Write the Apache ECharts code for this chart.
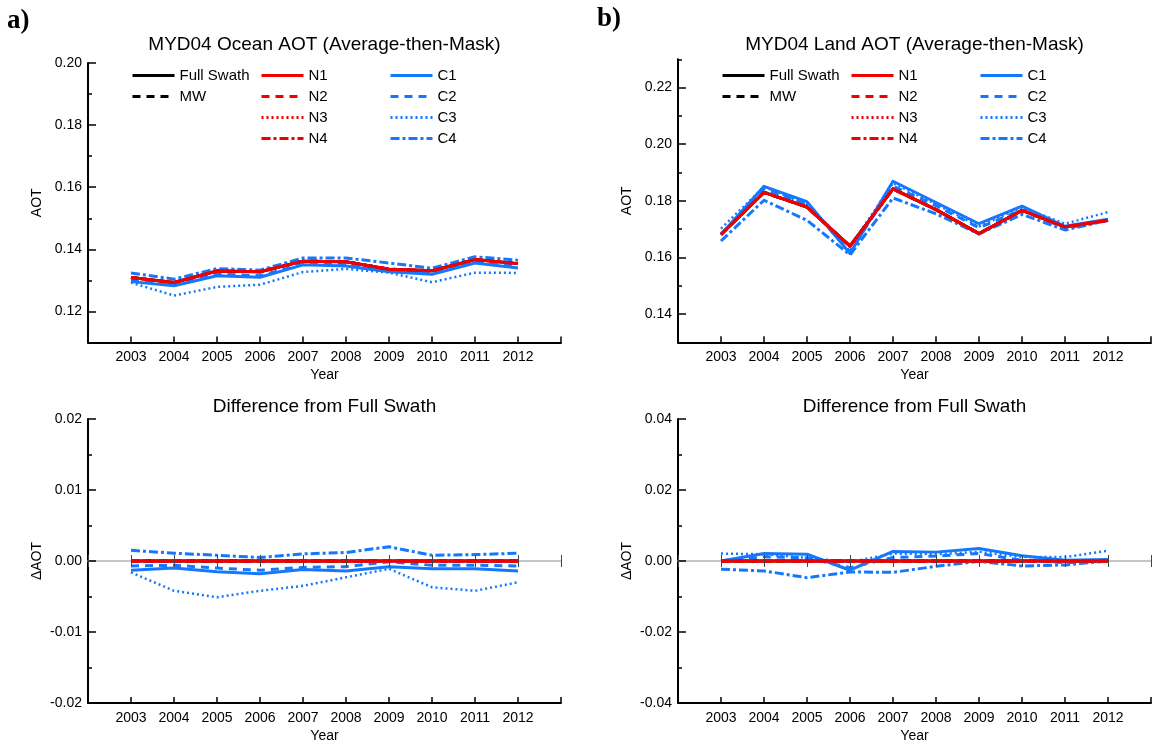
<!DOCTYPE html>
<html><head><meta charset="utf-8">
<script src="https://cdn.jsdelivr.net/npm/echarts@6/dist/echarts.min.js"></script>
<style>html,body{margin:0;padding:0;background:#fff}#c{width:1154px;height:744px}</style>
</head><body><div id="c"></div>
<script>
// ---------- data ----------
const years = [2003, 2004, 2005, 2006, 2007, 2008, 2009, 2010, 2011, 2012];

// Ocean AOT (top-left)
const oceanFullSwath = [0.1309, 0.1293, 0.1330, 0.1328, 0.1362, 0.1360, 0.1336, 0.1331, 0.1367, 0.1354];
const oceanMW        = [0.1309, 0.1293, 0.1330, 0.1328, 0.1362, 0.1360, 0.1336, 0.1331, 0.1367, 0.1354];
const oceanN1        = [0.1309, 0.1293, 0.1330, 0.1328, 0.1362, 0.1360, 0.1336, 0.1331, 0.1367, 0.1354];
const oceanN2        = [0.1309, 0.1293, 0.1330, 0.1328, 0.1362, 0.1360, 0.1336, 0.1331, 0.1367, 0.1354];
const oceanN3        = [0.1309, 0.1293, 0.1330, 0.1328, 0.1362, 0.1360, 0.1336, 0.1331, 0.1367, 0.1354];
const oceanN4        = [0.1309, 0.1293, 0.1330, 0.1328, 0.1362, 0.1360, 0.1336, 0.1331, 0.1367, 0.1354];
const oceanC1        = [0.1296, 0.1283, 0.1315, 0.1310, 0.1350, 0.1346, 0.1328, 0.1320, 0.1356, 0.1340];
const oceanC2        = [0.1302, 0.1287, 0.1320, 0.1315, 0.1353, 0.1352, 0.1335, 0.1325, 0.1361, 0.1347];
const oceanC3        = [0.1293, 0.1251, 0.1279, 0.1286, 0.1327, 0.1337, 0.1325, 0.1294, 0.1325, 0.1324];
const oceanC4        = [0.1324, 0.1304, 0.1338, 0.1333, 0.1372, 0.1372, 0.1356, 0.1339, 0.1376, 0.1365];

// Land AOT (top-right)
const landFullSwath = [0.1681, 0.1830, 0.1778, 0.1640, 0.1842, 0.1769, 0.1684, 0.1766, 0.1708, 0.1731];
const landMW        = [0.1681, 0.1830, 0.1778, 0.1640, 0.1842, 0.1769, 0.1684, 0.1766, 0.1708, 0.1731];
const landN1        = [0.1681, 0.1830, 0.1778, 0.1640, 0.1842, 0.1769, 0.1684, 0.1766, 0.1708, 0.1731];
const landN2        = [0.1681, 0.1830, 0.1778, 0.1640, 0.1842, 0.1769, 0.1684, 0.1766, 0.1708, 0.1731];
const landN3        = [0.1681, 0.1830, 0.1778, 0.1640, 0.1842, 0.1769, 0.1684, 0.1766, 0.1708, 0.1731];
const landN4        = [0.1681, 0.1830, 0.1778, 0.1640, 0.1842, 0.1769, 0.1684, 0.1766, 0.1708, 0.1731];
const landC1        = [0.1681, 0.1851, 0.1797, 0.1614, 0.1869, 0.1794, 0.1719, 0.1781, 0.1710, 0.1735];
const landC2        = [0.1681, 0.1842, 0.1787, 0.1621, 0.1852, 0.1783, 0.1705, 0.1768, 0.1703, 0.1731];
const landC3        = [0.1702, 0.1849, 0.1787, 0.1637, 0.1863, 0.1788, 0.1710, 0.1777, 0.1719, 0.1760];
const landC4        = [0.1658, 0.1802, 0.1731, 0.1609, 0.1810, 0.1754, 0.1683, 0.1752, 0.1697, 0.1731];

// Ocean difference from Full Swath (bottom-left)
const oceanDiffFullSwath = [0, 0, 0, 0, 0, 0, 0, 0, 0, 0];
const oceanDiffMW        = [0, 0, 0, 0, 0, 0, 0, 0, 0, 0];
const oceanDiffN1        = [0, 0, 0, 0, 0, 0, 0, 0, 0, 0];
const oceanDiffN2        = [0, 0, 0, 0, 0, 0, 0, 0, 0, 0];
const oceanDiffN3        = [0, 0, 0, 0, 0, 0, 0, 0, 0, 0];
const oceanDiffN4        = [0, 0, 0, 0, 0, 0, 0, 0, 0, 0];
const oceanDiffC1        = [-0.0013, -0.0010, -0.0015, -0.0018, -0.0012, -0.0014, -0.0008, -0.0011, -0.0011, -0.0014];
const oceanDiffC2        = [-0.0007, -0.0006, -0.0010, -0.0013, -0.0009, -0.0008, -0.0001, -0.0006, -0.0006, -0.0007];
const oceanDiffC3        = [-0.0016, -0.0042, -0.0051, -0.0042, -0.0035, -0.0023, -0.0011, -0.0037, -0.0042, -0.0030];
const oceanDiffC4        = [0.0015, 0.0011, 0.0008, 0.0005, 0.0010, 0.0012, 0.0020, 0.0008, 0.0009, 0.0011];

// Land difference from Full Swath (bottom-right)
const landDiffFullSwath = [0, 0, 0, 0, 0, 0, 0, 0, 0, 0];
const landDiffMW        = [0, 0, 0, 0, 0, 0, 0, 0, 0, 0];
const landDiffN1        = [0, 0, 0, 0, 0, 0, 0, 0, 0, 0];
const landDiffN2        = [0, 0, 0, 0, 0, 0, 0, 0, 0, 0];
const landDiffN3        = [0, 0, 0, 0, 0, 0, 0, 0, 0, 0];
const landDiffN4        = [0, 0, 0, 0, 0, 0, 0, 0, 0, 0];
const landDiffC1        = [0.0000, 0.0021, 0.0019, -0.0026, 0.0027, 0.0025, 0.0035, 0.0015, 0.0002, 0.0004];
const landDiffC2        = [0.0000, 0.0012, 0.0009, -0.0019, 0.0010, 0.0014, 0.0021, 0.0002, -0.0005, 0.0000];
const landDiffC3        = [0.0021, 0.0019, 0.0009, -0.0003, 0.0021, 0.0019, 0.0026, 0.0011, 0.0011, 0.0029];
const landDiffC4        = [-0.0023, -0.0028, -0.0047, -0.0031, -0.0032, -0.0015, -0.0001, -0.0014, -0.0011, 0.0000];

// tick values
const oceanAotTicks  = [0.12, 0.14, 0.16, 0.18, 0.20];
const oceanAotMinor  = [0.13, 0.15, 0.17, 0.19];
const landAotTicks   = [0.14, 0.16, 0.18, 0.20, 0.22];
const landAotMinor   = [0.15, 0.17, 0.19, 0.21, 0.23];
const oceanDiffTicks = [-0.02, -0.01, 0.00, 0.01, 0.02];
const oceanDiffMinor = [-0.015, -0.005, 0.005, 0.015];
const landDiffTicks  = [-0.04, -0.02, 0.00, 0.02, 0.04];
const landDiffMinor  = [-0.03, -0.01, 0.01, 0.03];

// ---------- styles ----------
const font = "'Liberation Sans', Arial, Helvetica, sans-serif";
const RED = '#f00000', BLUE = '#1478ff', BLACK = '#000000';
const DASH = [8, 6], DOT = [2, 3], DASHDOT = [9, 3, 3, 3];
const styleOf = {
  'Full Swath': {color: BLACK, type: 'solid', width: 3},
  'MW': {color: BLACK, type: DASH, width: 3},
  'N1': {color: RED, type: 'solid', width: 3},
  'N2': {color: RED, type: DASH, width: 3},
  'N3': {color: RED, type: DOT, width: 2.5},
  'N4': {color: RED, type: DASHDOT, width: 3},
  'C1': {color: BLUE, type: 'solid', width: 3},
  'C2': {color: BLUE, type: DASH, width: 3},
  'C3': {color: BLUE, type: DOT, width: 2.5},
  'C4': {color: BLUE, type: DASHDOT, width: 3}
};
const drawOrder = ['Full Swath', 'MW', 'C1', 'C2', 'C3', 'C4', 'N1', 'N2', 'N3', 'N4'];

const panels = [
  {grid: {left: 88, top: 63, width: 473, height: 279.5}, min: 0.11, max: 0.20, major: oceanAotTicks, minor: oceanAotMinor, yName: 'AOT', zero: false,
   data: {'Full Swath': oceanFullSwath, 'MW': oceanMW, 'N1': oceanN1, 'N2': oceanN2, 'N3': oceanN3, 'N4': oceanN4, 'C1': oceanC1, 'C2': oceanC2, 'C3': oceanC3, 'C4': oceanC4}},
  {grid: {left: 678, top: 59.3, width: 473, height: 283}, min: 0.13, max: 0.23, major: landAotTicks, minor: landAotMinor, yName: 'AOT', zero: false,
   data: {'Full Swath': landFullSwath, 'MW': landMW, 'N1': landN1, 'N2': landN2, 'N3': landN3, 'N4': landN4, 'C1': landC1, 'C2': landC2, 'C3': landC3, 'C4': landC4}},
  {grid: {left: 88, top: 419, width: 473, height: 284}, min: -0.02, max: 0.02, major: oceanDiffTicks, minor: oceanDiffMinor, yName: 'ΔAOT', zero: true,
   data: {'Full Swath': oceanDiffFullSwath, 'MW': oceanDiffMW, 'N1': oceanDiffN1, 'N2': oceanDiffN2, 'N3': oceanDiffN3, 'N4': oceanDiffN4, 'C1': oceanDiffC1, 'C2': oceanDiffC2, 'C3': oceanDiffC3, 'C4': oceanDiffC4}},
  {grid: {left: 678, top: 419, width: 473, height: 284}, min: -0.04, max: 0.04, major: landDiffTicks, minor: landDiffMinor, yName: 'ΔAOT', zero: true,
   data: {'Full Swath': landDiffFullSwath, 'MW': landDiffMW, 'N1': landDiffN1, 'N2': landDiffN2, 'N3': landDiffN3, 'N4': landDiffN4, 'C1': landDiffC1, 'C2': landDiffC2, 'C3': landDiffC3, 'C4': landDiffC4}}
];

const grid = [], xAxis = [], yAxis = [], series = [];
panels.forEach((p, gi) => {
  grid.push(Object.assign({containLabel: false}, p.grid));
  const xi = xAxis.length;
  xAxis.push({
    type: 'value', gridIndex: gi, min: 2002, max: 2013, interval: 1, position: 'bottom',
    axisLine: {onZero: false, lineStyle: {color: '#000', width: 2}},
    axisTick: {inside: true, length: 6, lineStyle: {color: '#000', width: 1.5}},
    axisLabel: {formatter: v => (v >= years[0] && v <= years[years.length - 1]) ? String(v) : '', fontSize: 14, color: '#000', fontFamily: font, margin: 8},
    splitLine: {show: false},
    name: 'Year', nameLocation: 'middle', nameGap: 26,
    nameTextStyle: {fontSize: 14, color: '#000', fontFamily: font}
  });
  const yi = yAxis.length;
  if (p.zero) {
    // gray zero line (under the series)
    xAxis.push({
      type: 'value', gridIndex: gi, min: 2002, max: 2013, interval: 1, position: 'bottom', z: 0,
      axisLine: {onZero: true, onZeroAxisIndex: yi, lineStyle: {color: '#b4b4b4', width: 1.5}},
      axisTick: {show: false}, axisLabel: {show: false}, splitLine: {show: false}
    });
    // year ticks crossing the zero line (above the series)
    [true, false].forEach(inside => {
      xAxis.push({
        type: 'value', gridIndex: gi, min: 2002, max: 2013, interval: 1, position: 'bottom', z: 5,
        axisLine: {show: false, onZero: true, onZeroAxisIndex: yi},
        axisTick: {show: true, inside, length: 6, lineStyle: {color: '#444', width: 1}},
        axisLabel: {show: false}, splitLine: {show: false}
      });
    });
  }
  yAxis.push({
    type: 'value', gridIndex: gi, min: p.min, max: p.max, interval: 0.01, position: 'left',
    axisLine: {show: true, lineStyle: {color: '#000', width: 2}},
    axisTick: {show: true, inside: true, length: 8, customValues: p.major, lineStyle: {color: '#000', width: 1.5}},
    axisLabel: {customValues: p.major, formatter: v => v.toFixed(2), fontSize: 14, color: '#000', fontFamily: font, margin: 6},
    splitLine: {show: false},
    name: p.yName, nameLocation: 'middle', nameGap: 44,
    nameTextStyle: {fontSize: 14, color: '#000', fontFamily: font}
  });
  yAxis.push({
    type: 'value', gridIndex: gi, min: p.min, max: p.max, interval: 0.01, position: 'left',
    axisLine: {show: false},
    axisTick: {show: true, inside: true, length: 4, customValues: p.minor, lineStyle: {color: '#000', width: 1.5}},
    axisLabel: {show: false}, splitLine: {show: false}
  });
  drawOrder.forEach(name => {
    const s = styleOf[name];
    const arr = p.data[name];
    series.push({
      type: 'line', name, xAxisIndex: xi, yAxisIndex: yi,
      data: years.map((y, i) => [y, arr[i]]),
      symbol: 'none', showSymbol: false, silent: true, animation: false,
      color: s.color,
      itemStyle: {color: s.color},
      lineStyle: {color: s.color, type: s.type, width: s.width, cap: 'butt', join: 'round'}
    });
  });
});

const legendCols = [['Full Swath', 'MW'], ['N1', 'N2', 'N3', 'N4'], ['C1', 'C2', 'C3', 'C4']];
const legendLeft = [131, 260, 389];
const legend = [];
[0, 590].forEach(dx => {
  legendCols.forEach((c, i) => {
    legend.push({
      data: c, left: legendLeft[i] + dx, top: 68, orient: 'vertical',
      itemWidth: 42, itemHeight: 14, itemGap: 6, padding: 0, selectedMode: false,
      textStyle: {fontSize: 15, color: '#000', fontFamily: font},
      itemStyle: {color: 'rgba(0,0,0,0)', borderColor: 'rgba(0,0,0,0)', borderWidth: 0, opacity: 0},
      lineStyle: {width: 3}
    });
  });
});

const titleFont = "19px " + font;
const graphic = [
  {type: 'text', x: 324.5, y: 45, style: {text: 'MYD04 Ocean AOT (Average-then-Mask)', font: titleFont, fill: '#000', textAlign: 'center', textVerticalAlign: 'middle'}},
  {type: 'text', x: 914.5, y: 45, style: {text: 'MYD04 Land AOT (Average-then-Mask)', font: titleFont, fill: '#000', textAlign: 'center', textVerticalAlign: 'middle'}},
  {type: 'text', x: 324.5, y: 407, style: {text: 'Difference from Full Swath', font: titleFont, fill: '#000', textAlign: 'center', textVerticalAlign: 'middle'}},
  {type: 'text', x: 914.5, y: 407, style: {text: 'Difference from Full Swath', font: titleFont, fill: '#000', textAlign: 'center', textVerticalAlign: 'middle'}},
  {type: 'text', x: 7, y: 21, style: {text: 'a)', font: "bold 27px 'Liberation Serif', 'Times New Roman', serif", fill: '#000', textAlign: 'left', textVerticalAlign: 'middle'}},
  {type: 'text', x: 597, y: 19, style: {text: 'b)', font: "bold 27px 'Liberation Serif', 'Times New Roman', serif", fill: '#000', textAlign: 'left', textVerticalAlign: 'middle'}}
];

const chart = echarts.init(document.getElementById('c'), null, {renderer: 'canvas'});
chart.setOption({
  backgroundColor: '#fff',
  animation: false,
  grid, xAxis, yAxis, series, legend, graphic
});
</script>
</body></html>
